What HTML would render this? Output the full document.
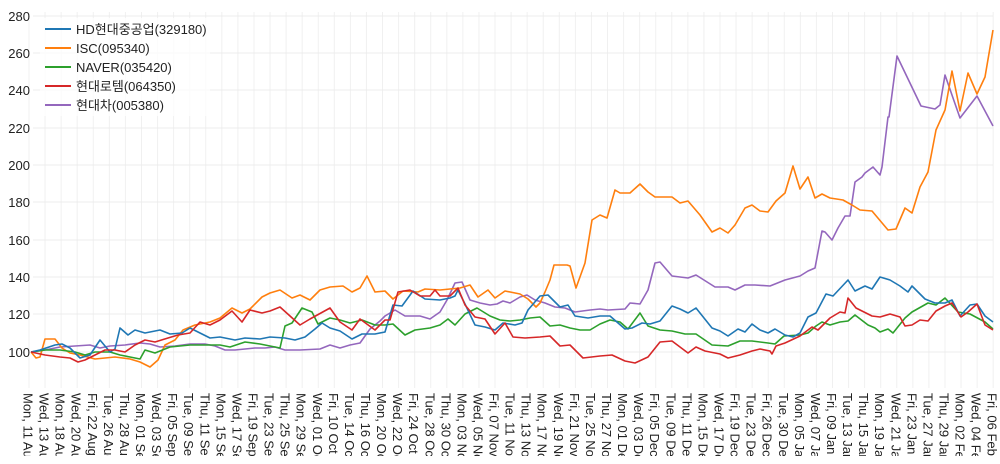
<!DOCTYPE html>
<html><head><meta charset="utf-8"><style>
html,body{margin:0;padding:0;background:#fff;}
svg{display:block;font-family:"Liberation Sans","Noto Sans CJK KR",sans-serif;}
</style></head><body>
<svg width="1000" height="464" viewBox="0 0 1000 464">
<defs>
<pattern id="vp" patternUnits="userSpaceOnUse" x="28.5" y="0" width="16.07" height="464">
<rect x="0" y="0" width="1" height="464" fill="#f0f0f0"/>
</pattern>
<clipPath id="lc"><rect x="0" y="380" width="1000" height="76"/></clipPath>
</defs>
<rect x="28.5" y="12" width="966" height="376" fill="url(#vp)"/>
<g stroke="#ececec" stroke-width="1">
<line x1="33" x2="993" y1="16" y2="16"/><line x1="33" x2="993" y1="53" y2="53"/><line x1="33" x2="993" y1="90" y2="90"/><line x1="33" x2="993" y1="128" y2="128"/><line x1="33" x2="993" y1="165" y2="165"/><line x1="33" x2="993" y1="202" y2="202"/><line x1="33" x2="993" y1="240" y2="240"/><line x1="33" x2="993" y1="277" y2="277"/><line x1="33" x2="993" y1="314" y2="314"/><line x1="33" x2="993" y1="352" y2="352"/>
</g>
<g font-size="13" fill="#222" text-anchor="end">
<text x="30" y="21">280</text><text x="30" y="58">260</text><text x="30" y="95">240</text><text x="30" y="133">220</text><text x="30" y="170">200</text><text x="30" y="207">180</text><text x="30" y="245">160</text><text x="30" y="282">140</text><text x="30" y="319">120</text><text x="30" y="357">100</text>
</g>
<g fill="none" stroke-width="1.6" stroke-linejoin="round">
<polyline stroke="#9467bd" points="31,352 45,350 60,347 75,346 90,345 100,348 110,346 125,345 140,343 150,344 160,347 175,346 190,344 205,344 215,346 225,350 235,350 245,349 255,348 265,348 275,347 285,350 300,350 320,349 330,345 340,348 350,345 360,343 370,329 380,321 385,316 395,310 405,316 420,316 430,319 440,312 447,300 455,283 462,282 470,300 480,303 490,305 497,304 503,301 510,303 520,297 527,295 535,300 545,303 555,307 565,308 575,312 590,310 600,309 608,310 625,309 630,303 640,304 648,290 655,263 660,262 672,276 688,278 696,275 715,287 728,287 735,290 745,285 755,285 770,286 775,284 785,280 800,276 808,271 815,268 822,231 825,232 832,240 838,228 845,216 850,216 855,182 862,177 865,173 873,167 880,175 882,167 888,117 889,117 897,56 921,106 935,109 940,105 945,75 960,118 977,96 993,126"/>
<polyline stroke="#ff7f0e" points="31,352 36,358 40,357 45,339 55,339 62,348 70,353 80,355 95,359 115,357 130,359 140,362 150,367 158,360 165,345 175,340 183,330 195,325 210,322 220,318 232,308 242,313 250,309 262,297 270,293 280,290 292,298 300,295 310,300 320,290 330,287 343,286 352,292 360,288 367,276 375,292 385,291 393,299 403,291 418,292 425,289 440,290 460,288 470,285 478,297 488,290 495,298 505,291 520,294 528,299 536,307 540,303 545,292 550,280 554,265 567,265 570,266 576,288 585,263 592,220 600,215 607,218 615,190 620,193 630,193 640,184 648,192 655,197 672,197 680,203 688,201 700,215 712,232 720,228 728,233 735,225 745,208 752,205 760,211 768,212 776,201 785,193 793,166 800,189 808,177 815,198 822,194 830,198 843,200 852,205 860,210 872,211 888,230 896,229 905,208 912,213 920,187 928,172 936,130 945,110 952,71 960,111 968,73 977,94 985,77 993,30"/>
<polyline stroke="#2ca02c" points="31,352 45,350 60,350 75,352 85,355 95,352 110,352 120,355 130,357 140,359 145,350 155,353 170,347 190,345 200,345 220,345 230,347 245,342 260,344 280,348 285,326 292,323 302,308 312,312 318,324 330,318 340,320 350,323 362,320 375,325 385,325 393,324 405,335 415,330 430,328 440,325 448,319 455,325 465,314 477,308 490,316 500,320 510,321 520,320 530,318 540,317 550,326 560,325 570,328 580,330 590,330 600,324 610,320 620,322 628,329 640,313 648,326 660,330 672,331 685,334 696,334 712,345 728,346 740,341 752,341 768,343 775,344 784,336 800,335 808,333 816,326 822,322 830,325 840,322 848,321 855,315 868,325 875,328 880,332 888,329 893,333 905,318 912,312 928,303 936,305 945,298 958,312 970,314 985,322 993,329"/>
<polyline stroke="#1f77b4" points="31,352 40,350 55,345 62,344 70,348 80,358 90,355 100,340 110,352 115,349 120,328 128,335 135,330 145,333 160,330 170,334 182,333 190,328 200,333 210,338 220,337 235,340 245,338 260,339 270,337 285,338 295,340 305,337 315,329 322,323 330,328 340,331 352,339 362,334 375,334 385,332 393,305 402,306 413,291 425,299 440,300 450,298 455,296 458,290 465,304 475,325 485,327 495,330 503,323 515,325 522,323 528,310 540,296 548,295 560,307 568,305 575,316 588,318 600,316 610,316 625,329 632,328 642,323 650,324 660,321 672,306 680,309 688,313 696,308 712,328 720,331 728,336 738,329 745,332 752,324 760,330 768,333 775,329 785,335 793,337 800,333 808,317 816,313 826,294 833,296 848,280 855,291 865,286 872,289 880,277 890,280 900,286 908,292 912,286 925,299 935,303 945,303 952,300 960,316 970,305 977,304 985,316 993,322"/>
<polyline stroke="#d62728" points="31,352 45,355 60,357 70,358 78,362 85,360 95,355 105,350 115,350 125,352 135,345 145,340 155,342 168,338 178,335 190,333 200,322 210,325 220,320 232,311 242,322 250,310 262,313 270,311 280,307 290,316 300,325 310,319 330,308 340,322 352,330 360,319 375,330 385,320 390,320 398,292 410,290 420,296 430,296 435,290 440,296 450,296 458,288 465,305 475,317 485,319 495,334 505,323 513,337 525,338 540,337 550,336 560,346 570,345 583,358 600,356 612,355 625,361 635,363 648,357 660,342 672,341 688,353 696,347 705,351 720,354 728,358 740,355 752,351 760,349 770,351 772,354 776,346 785,343 800,336 812,327 818,330 830,318 840,312 845,313 848,298 856,308 872,316 880,317 890,314 900,317 905,326 912,325 920,320 928,321 936,311 945,306 952,303 961,317 968,312 977,304 985,325 993,330"/>
</g>
<rect x="40" y="18" width="170" height="98" fill="#fff" fill-opacity="0.75"/>
<g font-size="13" fill="#222">
<line x1="45" x2="71" y1="29" y2="29" stroke="#1f77b4" stroke-width="2"/><text x="76" y="34">HD현대중공업(329180)</text>
<line x1="45" x2="71" y1="48" y2="48" stroke="#ff7f0e" stroke-width="2"/><text x="76" y="53">ISC(095340)</text>
<line x1="45" x2="71" y1="67" y2="67" stroke="#2ca02c" stroke-width="2"/><text x="76" y="72">NAVER(035420)</text>
<line x1="45" x2="71" y1="86" y2="86" stroke="#d62728" stroke-width="2"/><text x="76" y="91">현대로템(064350)</text>
<line x1="45" x2="71" y1="105" y2="105" stroke="#9467bd" stroke-width="2"/><text x="76" y="110">현대차(005380)</text>
</g>
<g font-size="13" fill="#222" clip-path="url(#lc)">
<text transform="translate(23.5,393) rotate(90)">Mon, 11 Aug</text>
<text transform="translate(39.6,393) rotate(90)">Wed, 13 Aug</text>
<text transform="translate(55.6,393) rotate(90)">Mon, 18 Aug</text>
<text transform="translate(71.7,393) rotate(90)">Wed, 20 Aug</text>
<text transform="translate(87.8,393) rotate(90)">Fri, 22 Aug</text>
<text transform="translate(103.9,393) rotate(90)">Tue, 26 Aug</text>
<text transform="translate(119.9,393) rotate(90)">Thu, 28 Aug</text>
<text transform="translate(136.0,393) rotate(90)">Mon, 01 Sep</text>
<text transform="translate(152.1,393) rotate(90)">Wed, 03 Sep</text>
<text transform="translate(168.1,393) rotate(90)">Fri, 05 Sep</text>
<text transform="translate(184.2,393) rotate(90)">Tue, 09 Sep</text>
<text transform="translate(200.3,393) rotate(90)">Thu, 11 Sep</text>
<text transform="translate(216.3,393) rotate(90)">Mon, 15 Sep</text>
<text transform="translate(232.4,393) rotate(90)">Wed, 17 Sep</text>
<text transform="translate(248.5,393) rotate(90)">Fri, 19 Sep</text>
<text transform="translate(264.6,393) rotate(90)">Tue, 23 Sep</text>
<text transform="translate(280.6,393) rotate(90)">Thu, 25 Sep</text>
<text transform="translate(296.7,393) rotate(90)">Mon, 29 Sep</text>
<text transform="translate(312.8,393) rotate(90)">Wed, 01 Oct</text>
<text transform="translate(328.8,393) rotate(90)">Fri, 10 Oct</text>
<text transform="translate(344.9,393) rotate(90)">Tue, 14 Oct</text>
<text transform="translate(361.0,393) rotate(90)">Thu, 16 Oct</text>
<text transform="translate(377.0,393) rotate(90)">Mon, 20 Oct</text>
<text transform="translate(393.1,393) rotate(90)">Wed, 22 Oct</text>
<text transform="translate(409.2,393) rotate(90)">Fri, 24 Oct</text>
<text transform="translate(425.3,393) rotate(90)">Tue, 28 Oct</text>
<text transform="translate(441.3,393) rotate(90)">Thu, 30 Oct</text>
<text transform="translate(457.4,393) rotate(90)">Mon, 03 Nov</text>
<text transform="translate(473.5,393) rotate(90)">Wed, 05 Nov</text>
<text transform="translate(489.5,393) rotate(90)">Fri, 07 Nov</text>
<text transform="translate(505.6,393) rotate(90)">Tue, 11 Nov</text>
<text transform="translate(521.7,393) rotate(90)">Thu, 13 Nov</text>
<text transform="translate(537.7,393) rotate(90)">Mon, 17 Nov</text>
<text transform="translate(553.8,393) rotate(90)">Wed, 19 Nov</text>
<text transform="translate(569.9,393) rotate(90)">Fri, 21 Nov</text>
<text transform="translate(586.0,393) rotate(90)">Tue, 25 Nov</text>
<text transform="translate(602.0,393) rotate(90)">Thu, 27 Nov</text>
<text transform="translate(618.1,393) rotate(90)">Mon, 01 Dec</text>
<text transform="translate(634.2,393) rotate(90)">Wed, 03 Dec</text>
<text transform="translate(650.2,393) rotate(90)">Fri, 05 Dec</text>
<text transform="translate(666.3,393) rotate(90)">Tue, 09 Dec</text>
<text transform="translate(682.4,393) rotate(90)">Thu, 11 Dec</text>
<text transform="translate(698.4,393) rotate(90)">Mon, 15 Dec</text>
<text transform="translate(714.5,393) rotate(90)">Wed, 17 Dec</text>
<text transform="translate(730.6,393) rotate(90)">Fri, 19 Dec</text>
<text transform="translate(746.7,393) rotate(90)">Tue, 23 Dec</text>
<text transform="translate(762.7,393) rotate(90)">Fri, 26 Dec</text>
<text transform="translate(778.8,393) rotate(90)">Tue, 30 Dec</text>
<text transform="translate(794.9,393) rotate(90)">Mon, 05 Jan</text>
<text transform="translate(810.9,393) rotate(90)">Wed, 07 Jan</text>
<text transform="translate(827.0,393) rotate(90)">Fri, 09 Jan</text>
<text transform="translate(843.1,393) rotate(90)">Tue, 13 Jan</text>
<text transform="translate(859.1,393) rotate(90)">Thu, 15 Jan</text>
<text transform="translate(875.2,393) rotate(90)">Mon, 19 Jan</text>
<text transform="translate(891.3,393) rotate(90)">Wed, 21 Jan</text>
<text transform="translate(907.4,393) rotate(90)">Fri, 23 Jan</text>
<text transform="translate(923.4,393) rotate(90)">Tue, 27 Jan</text>
<text transform="translate(939.5,393) rotate(90)">Thu, 29 Jan</text>
<text transform="translate(955.6,393) rotate(90)">Mon, 02 Feb</text>
<text transform="translate(971.6,393) rotate(90)">Wed, 04 Feb</text>
<text transform="translate(987.7,393) rotate(90)">Fri, 06 Feb</text>
</g>
</svg>
</body></html>
